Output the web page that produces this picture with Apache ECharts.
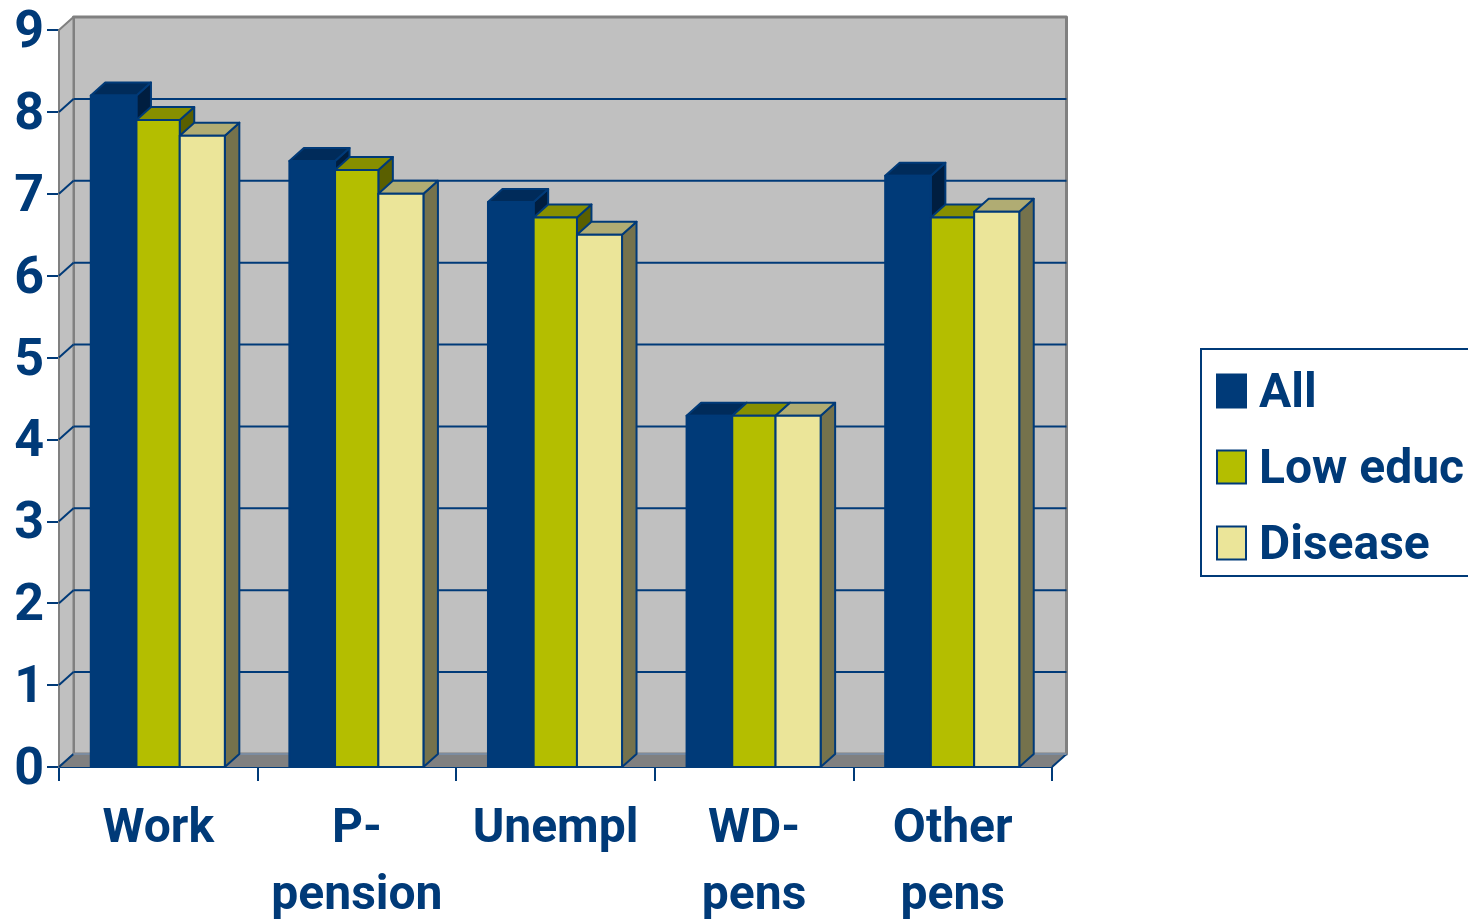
<!DOCTYPE html>
<html><head><meta charset="utf-8">
<style>html,body{margin:0;padding:0;background:#fff;overflow:hidden}#c{width:1468px;height:920px}</style>
<script src="https://cdn.jsdelivr.net/npm/echarts@6/dist/echarts.min.js"></script>
</head><body><div id="c"></div>
<script>
const categories = ['Work', 'P-\npension', 'Unempl', 'WD-\npens', 'Other\npens'];
const allValues = [8.20, 7.40, 6.90, 4.29, 7.22];
const lowEduc = [7.90, 7.29, 6.71, 4.29, 6.71];
const disease = [7.71, 7.00, 6.50, 4.29, 6.78];
const yTicks = [0, 1, 2, 3, 4, 5, 6, 7, 8, 9];

const BLUE = '#003A78', DX = 14.5, DY = -13, FONT = 'Roboto,"Liberation Sans",Arial,sans-serif';
const EDGES = [-0.34, -0.11, 0.108, 0.335];
const palette = [
  {front: '#003A78', top: '#002B5A', side: '#001E40'},
  {front: '#B4BE00', top: '#878F00', side: '#5A5F00'},
  {front: '#EBE599', top: '#B0AC73', side: '#75724C'}
];
const poly = (points, fill, stroke, w) => ({type: 'polygon', shape: {points},
  style: {fill, stroke: stroke || null, lineWidth: w || 0, lineJoin: 'round'}, silent: true});
const line = (a, b, stroke, w) => ({type: 'line', shape: {x1: a[0], y1: a[1], x2: b[0], y2: b[1]},
  style: {stroke, lineWidth: w}, silent: true});

function renderWalls(params, api) {
  const band = api.size([1, 0])[0];
  const left = api.coord([0, 0])[0] - band / 2;
  const right = left + band * categories.length;
  const v = api.value(1);
  const y = api.coord([0, v])[1];
  const children = [];
  if (params.dataIndex === 0) {
    const y0 = api.coord([0, 0])[1];
    const yT = api.coord([0, yTicks[yTicks.length - 1]])[1];
    children.push(poly([[left + DX, yT + DY], [right + DX, yT + DY], [right + DX, y0 + DY], [left + DX, y0 + DY]], '#C0C0C0', '#808080', 3));
    children.push(poly([[left, yT], [left + DX, yT + DY], [left + DX, y0 + DY], [left, y0]], '#C0C0C0', '#808080', 2));
    children.push(poly([[left, y0], [left + DX, y0 + DY], [right + DX, y0 + DY], [right, y0]], '#808080'));
    children.push(line([right, y0], [right + DX, y0 + DY], BLUE, 2));
  }
  if (v < yTicks[yTicks.length - 1]) {
    children.push(line([left, y], [left + DX, y + DY], BLUE, 2));
    children.push(line([left + DX, y + DY], [right + DX, y + DY], v === 0 ? '#7C8CA0' : BLUE, 2));
  }
  return {type: 'group', children};
}

function renderBar(seriesIndex) {
  return function (params, api) {
    const c = palette[seriesIndex];
    const band = api.size([1, 0])[0];
    const cx = api.coord([api.value(0), 0])[0];
    const x0 = cx + EDGES[seriesIndex] * band;
    const x1 = cx + EDGES[seriesIndex + 1] * band;
    const yB = api.coord([0, 0])[1];
    const yT = api.coord([0, api.value(1)])[1];
    const sw = 2;
    return {type: 'group', children: [
      poly([[x1, yT], [x1 + DX, yT + DY], [x1 + DX, yB + DY], [x1, yB]], c.side, BLUE, sw),
      poly([[x0, yT], [x0 + DX, yT + DY], [x1 + DX, yT + DY], [x1, yT]], c.top, BLUE, sw),
      poly([[x0, yT], [x1, yT], [x1, yB], [x0, yB]], c.front, BLUE, sw)
    ]};
  };
}

const seriesData = [['All', allValues], ['Low educ', lowEduc], ['Disease', disease]];
const chart = echarts.init(document.getElementById('c'), null, {renderer: 'canvas'});
chart.setOption({
  animation: false,
  backgroundColor: '#fff',
  grid: {left: 59, right: 416, top: 30, height: 737, containLabel: false, outerBoundsMode: 'none'},
  xAxis: {type: 'category', data: categories, boundaryGap: true,
    axisLine: {show: true, lineStyle: {color: BLUE, width: 2}},
    axisTick: {show: true, length: 14, alignWithLabel: false, lineStyle: {color: BLUE, width: 2}},
    axisLabel: {interval: 0, margin: 29, color: BLUE, fontFamily: FONT, fontWeight: 'bold', fontSize: 48, lineHeight: 67, verticalAlign: 'top'}
  },
  yAxis: {type: 'value', min: 0, max: 9, interval: 1,
    axisLine: {show: true, lineStyle: {color: BLUE, width: 2}},
    axisTick: {show: true, length: 12, lineStyle: {color: BLUE, width: 2}},
    splitLine: {show: false},
    axisLabel: {margin: 15, color: BLUE, fontFamily: FONT, fontWeight: 'bold', fontSize: 52, verticalAlign: 'top', lineHeight: 8}
  },
  legend: {orient: 'vertical', left: 1201, top: 349, data: seriesData.map(s => s[0]),
    padding: [14, 40, 5, 15], itemWidth: 29, itemHeight: 33, itemGap: 20, icon: 'rect',
    borderColor: BLUE, borderWidth: 2, backgroundColor: '#fff',
    formatter: '{a|{name}}',
    textStyle: {color: BLUE, fontFamily: FONT, fontWeight: 'bold', fontSize: 48,
      rich: {a: {color: BLUE, fontFamily: FONT, fontWeight: 'bold', fontSize: 48, lineHeight: 40, padding: [8, 0, 0, 8]}}},
    selectedMode: false
  },
  series: [
    {type: 'custom', name: 'walls', z: 1, renderItem: renderWalls, data: yTicks.map(v => [0, v]), silent: true}
  ].concat(seriesData.map((s, i) => ({
    type: 'custom', name: s[0], z: 3 + i, renderItem: renderBar(i),
    itemStyle: {color: palette[i].front, borderColor: BLUE, borderWidth: 2},
    data: s[1].map((v, k) => [k, v]), silent: true
  })))
});
</script></body></html>
